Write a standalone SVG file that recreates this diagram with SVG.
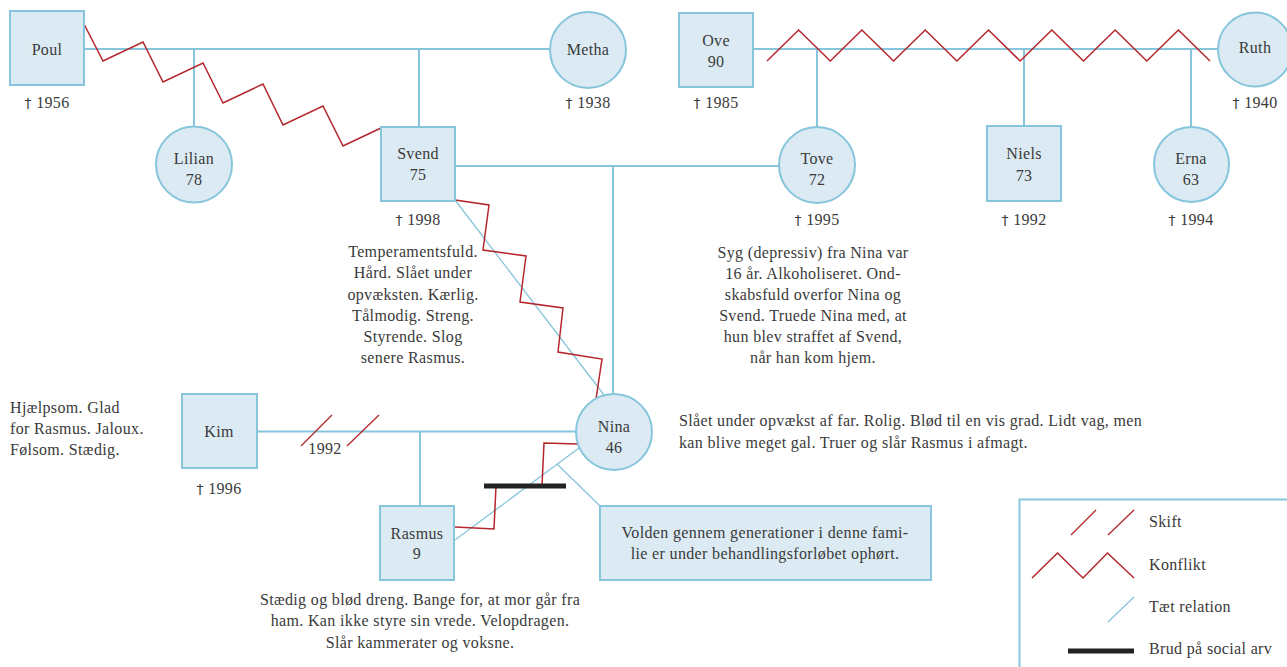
<svg xmlns="http://www.w3.org/2000/svg" width="1287" height="667" viewBox="0 0 1287 667">
  <style>
    .node { fill: #dbeaf3; stroke: #86c5dc; stroke-width: 2; }
    .line { fill: none; stroke: #86c5dc; stroke-width: 2; }
    .close { fill: none; stroke: #86c5dc; stroke-width: 1.3; }
    .conflict { fill: none; stroke: #b3262b; stroke-width: 1.5; stroke-linejoin: miter; }
    .cut { fill: none; stroke: #b3262b; stroke-width: 1.3; }
    .break { fill: #222; }
    text { font-family: "Liberation Serif", "Times New Roman", serif; font-size: 16px; fill: #3a3a3a; letter-spacing: 0.35px; }
    .c { text-anchor: middle; }
    .d { font-family: "DejaVu Sans", sans-serif; font-size: 14px; fill: #3a3a3a; }
  </style>

  <!-- connectors -->
  <g id="connectors">
    <!-- Poul + Metha -->
    <line class="line" x1="84" y1="49" x2="550" y2="49"/>
    <line class="line" x1="194" y1="49" x2="194" y2="127"/>
    <line class="line" x1="419" y1="49" x2="419" y2="127"/>
    <!-- Ove + Ruth -->
    <line class="line" x1="753" y1="49" x2="1218" y2="49"/>
    <line class="line" x1="817" y1="49" x2="817" y2="127"/>
    <line class="line" x1="1024" y1="49" x2="1024" y2="126"/>
    <line class="line" x1="1191" y1="49" x2="1191" y2="127"/>
    <!-- Svend + Tove -->
    <line class="line" x1="455" y1="166" x2="779" y2="166"/>
    <line class="line" x1="613" y1="166" x2="613" y2="394"/>
    <!-- Kim + Nina -->
    <line class="line" x1="257" y1="431.5" x2="576" y2="431.5"/>
    <line class="line" x1="420" y1="431.5" x2="420" y2="506"/>
    <!-- divorce marks -->
    <line class="cut" x1="301" y1="446" x2="332" y2="415"/>
    <line class="cut" x1="347" y1="446" x2="379" y2="415"/>

    <!-- close relations -->
    <line class="close" x1="455" y1="200" x2="604" y2="395"/>
    <line class="close" x1="579" y1="448" x2="455" y2="540"/>
    <line class="close" x1="557" y1="464" x2="600" y2="506"/>

    <!-- conflicts -->
    <polyline class="conflict" points="84,24 103,61 143,42 163,82 203,63 223,103 263,84 283,125 323,106 343,146 381,128"/>
    <polyline class="conflict" points="767,61 798.6,30 830.3,61 861.9,30 893.6,61 925.2,30 956.9,61 988.5,30 1020.2,61 1051.8,30 1083.5,61 1115.1,30 1146.8,61 1178.4,30 1210,61"/>
    <polyline class="conflict" points="455,200 489,205 483,250 526,256 520,302 563,308 558,352 602,359 596,399"/>
    <polyline class="conflict" points="578,444 544,443 542,486 496,486 494,529 455,527"/>

    <!-- end of inherited violence -->
    <rect class="break" x="484" y="483.5" width="82" height="5"/>
  </g>

  <!-- nodes -->
  <g id="poul">
    <rect class="node" x="10" y="11" width="74" height="74"/>
    <text class="c" x="47" y="55">Poul</text>
    <text class="c" x="47" y="108"><tspan class="d">†</tspan> 1956</text>
  </g>
  <g id="metha">
    <circle class="node" cx="588" cy="50" r="38"/>
    <text class="c" x="588" y="55">Metha</text>
    <text class="c" x="588" y="108"><tspan class="d">†</tspan> 1938</text>
  </g>
  <g id="ove">
    <rect class="node" x="679" y="13" width="74" height="74"/>
    <text class="c" x="716" y="46">Ove</text>
    <text class="c" x="716" y="67">90</text>
    <text class="c" x="716" y="108"><tspan class="d">†</tspan> 1985</text>
  </g>
  <g id="ruth">
    <circle class="node" cx="1255" cy="49.5" r="37"/>
    <text class="c" x="1255" y="53">Ruth</text>
    <text class="c" x="1255" y="108"><tspan class="d">†</tspan> 1940</text>
  </g>
  <g id="lilian">
    <circle class="node" cx="194" cy="164.5" r="38"/>
    <text class="c" x="194" y="164">Lilian</text>
    <text class="c" x="194" y="185">78</text>
  </g>
  <g id="svend">
    <rect class="node" x="381" y="127" width="74" height="74"/>
    <text class="c" x="418" y="159">Svend</text>
    <text class="c" x="418" y="180">75</text>
    <text class="c" x="418" y="225"><tspan class="d">†</tspan> 1998</text>
    <text class="c" x="413" y="257">Temperamentsfuld.</text>
    <text class="c" x="413" y="278">Hård. Slået under</text>
    <text class="c" x="413" y="300">opvæksten. Kærlig.</text>
    <text class="c" x="413" y="321">Tålmodig. Streng.</text>
    <text class="c" x="413" y="342">Styrende. Slog</text>
    <text class="c" x="413" y="363">senere Rasmus.</text>
  </g>
  <g id="tove">
    <circle class="node" cx="817" cy="165" r="38"/>
    <text class="c" x="817" y="164">Tove</text>
    <text class="c" x="817" y="185">72</text>
    <text class="c" x="817" y="225"><tspan class="d">†</tspan> 1995</text>
    <text class="c" x="813" y="258">Syg (depressiv) fra Nina var</text>
    <text class="c" x="813" y="279">16 år. Alkoholiseret. Ond-</text>
    <text class="c" x="813" y="300">skabsfuld overfor Nina og</text>
    <text class="c" x="813" y="321">Svend. Truede Nina med, at</text>
    <text class="c" x="813" y="342">hun blev straffet af Svend,</text>
    <text class="c" x="813" y="363">når han kom hjem.</text>
  </g>
  <g id="niels">
    <rect class="node" x="987" y="126" width="74" height="75"/>
    <text class="c" x="1024" y="159">Niels</text>
    <text class="c" x="1024" y="181">73</text>
    <text class="c" x="1024" y="225"><tspan class="d">†</tspan> 1992</text>
  </g>
  <g id="erna">
    <circle class="node" cx="1191.5" cy="164.5" r="37.5"/>
    <text class="c" x="1191" y="164">Erna</text>
    <text class="c" x="1191" y="185">63</text>
    <text class="c" x="1191" y="225"><tspan class="d">†</tspan> 1994</text>
  </g>
  <g id="kim">
    <rect class="node" x="182" y="394" width="75" height="74"/>
    <text class="c" x="219" y="437">Kim</text>
    <text class="c" x="219" y="494"><tspan class="d">†</tspan> 1996</text>
    <text x="10" y="413">Hjælpsom. Glad</text>
    <text x="10" y="434">for Rasmus. Jaloux.</text>
    <text x="10" y="455">Følsom. Stædig.</text>
    <text class="c" x="325" y="454">1992</text>
  </g>
  <g id="nina">
    <circle class="node" cx="614" cy="432" r="38"/>
    <text class="c" x="614" y="432">Nina</text>
    <text class="c" x="614" y="453">46</text>
    <text x="679" y="426">Slået under opvækst af far. Rolig. Blød til en vis grad. Lidt vag, men</text>
    <text x="679" y="448">kan blive meget gal. Truer og slår Rasmus i afmagt.</text>
  </g>
  <g id="rasmus">
    <rect class="node" x="380" y="506" width="74" height="74"/>
    <text class="c" x="417" y="539">Rasmus</text>
    <text class="c" x="417" y="559">9</text>
    <text class="c" x="420" y="605">Stædig og blød dreng. Bange for, at mor går fra</text>
    <text class="c" x="420" y="626">ham. Kan ikke styre sin vrede. Velopdragen.</text>
    <text class="c" x="420" y="648">Slår kammerater og voksne.</text>
  </g>
  <g id="note">
    <rect class="node" x="600" y="506" width="331" height="74"/>
    <text class="c" x="765" y="538">Volden gennem generationer i denne fami-</text>
    <text class="c" x="765" y="559">lie er under behandlingsforløbet ophørt.</text>
  </g>

  <!-- legend -->
  <g id="legend">
    <rect x="1019.5" y="499.5" width="280" height="180" fill="none" stroke="#86c5dc" stroke-width="2"/>
    <line class="cut" x1="1071" y1="535" x2="1096" y2="510"/>
    <line class="cut" x1="1108" y1="535" x2="1134" y2="510"/>
    <polyline class="conflict" points="1032,578 1057.5,553 1083,578 1107.5,553 1134,578"/>
    <line class="close" x1="1108" y1="622" x2="1134" y2="597"/>
    <rect class="break" x="1068" y="648.5" width="66" height="5"/>
    <text x="1149" y="527">Skift</text>
    <text x="1149" y="570">Konflikt</text>
    <text x="1149" y="612">Tæt relation</text>
    <text x="1149" y="654">Brud på social arv</text>
  </g>
</svg>
